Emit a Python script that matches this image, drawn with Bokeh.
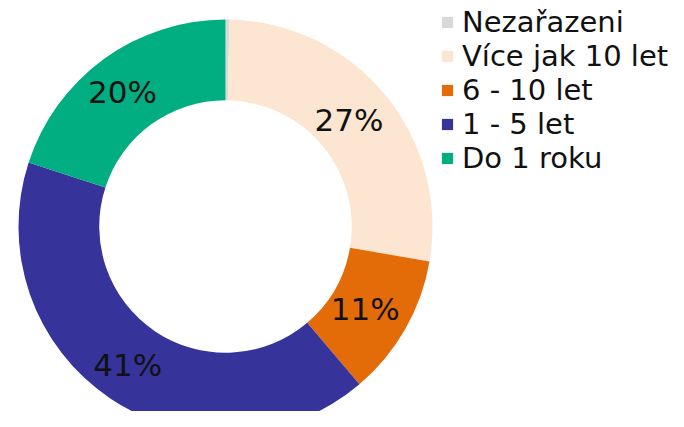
import numpy as np
from bokeh.plotting import figure
from bokeh.models import ColumnDataSource, Range1d, Legend, LegendItem
from bokeh.core.properties import value
from bokeh.embed import file_html
from bokeh.resources import INLINE

categories = ["Nezařazeni", "Více jak 10 let", "6 - 10 let", "1 - 5 let", "Do 1 roku"]
shares = [0.3, 27.4, 11.1, 41.2, 20.0]
colors = ["#D9D9D9", "#FDE6D1", "#E36C09", "#36339A", "#00AE82"]

W, H = 668, 411
R_OUT, R_IN = 1.0, 0.61
SCALE = 207.0          # pixels per data unit
CX, CY = 225.0, 226.0  # donut centre, px from the canvas top-left

p = figure(width=W, height=H, output_backend="svg", toolbar_location=None,
           x_range=Range1d(-CX / SCALE, (W - CX) / SCALE),
           y_range=Range1d(-(H - CY) / SCALE, CY / SCALE),
           x_axis_location=None, y_axis_location=None,
           min_border=0, min_border_left=0, min_border_right=0,
           min_border_top=0, min_border_bottom=0)
p.grid.visible = False
p.outline_line_color = None
p.background_fill_color = "white"
p.border_fill_color = "white"

total = float(sum(shares))
cum = np.cumsum([0.0] + shares) / total
start = np.pi / 2 - 2 * np.pi * cum[:-1]
end = np.pi / 2 - 2 * np.pi * cum[1:]
mid = (start + end) / 2
r_mid = (R_OUT + R_IN) / 2
labels = [f"{s:.0f}%" if s >= 1 else "" for s in shares]

src = ColumnDataSource(dict(cat=categories, share=shares, color=colors,
                            start=start, end=end,
                            lx=r_mid * np.cos(mid), ly=r_mid * np.sin(mid),
                            label=labels))

wr = p.annular_wedge(x=0, y=0, inner_radius=R_IN, outer_radius=R_OUT,
                     start_angle="start", end_angle="end", direction="clock",
                     fill_color="color", line_color=None, source=src)

p.text(x="lx", y="ly", text="label", source=src, x_offset=-5,
       text_font=value("DejaVu Sans"), text_font_size="31px",
       text_color="#111111", text_align="center", text_baseline="middle")

items = [LegendItem(label=c, renderers=[wr], index=i) for i, c in enumerate(categories)]
legend = Legend(items=items, location=(440, H - 175),
                label_text_font="DejaVu Sans", label_text_font_size="29px",
                label_text_color="#111111", label_standoff=8,
                glyph_width=14, glyph_height=14, spacing=0, padding=0, margin=0,
                border_line_color=None, background_fill_alpha=0)
p.add_layout(legend, "center")

open("out.html", "w").write(file_html(p, INLINE))
